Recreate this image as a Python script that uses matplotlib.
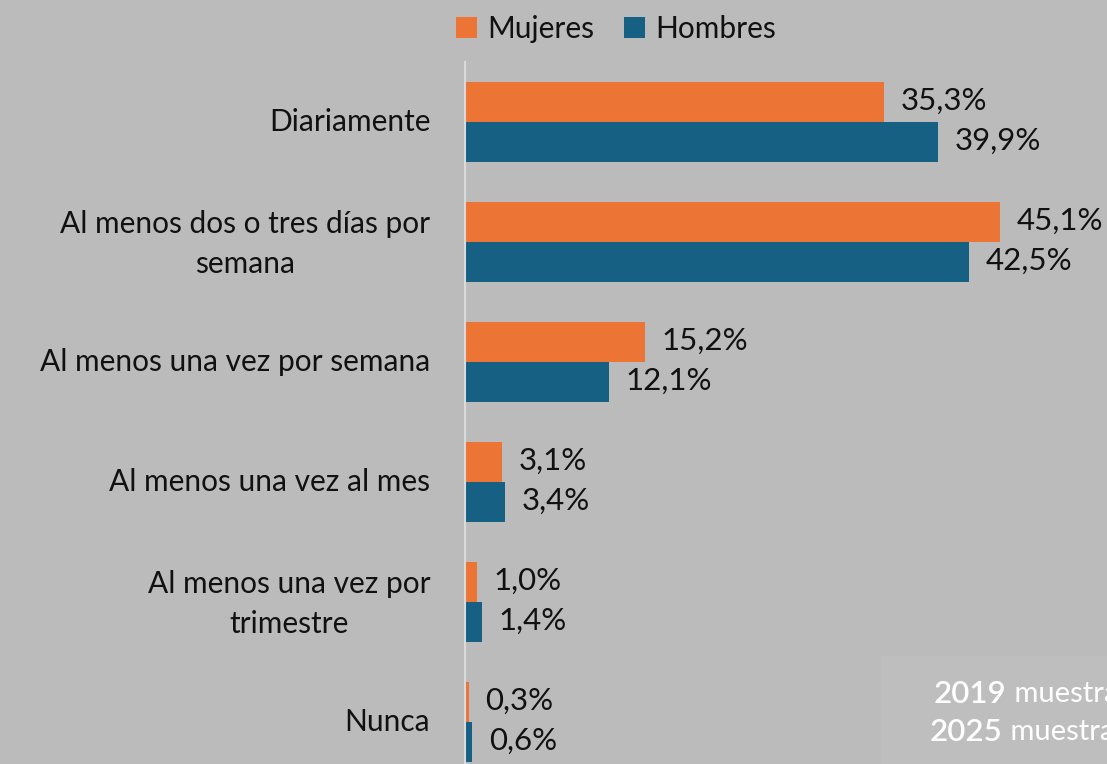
import matplotlib
matplotlib.use("Agg")
import matplotlib.pyplot as plt
import matplotlib.transforms as mtransforms
import numpy as np
from matplotlib.patches import Rectangle

categories = ["Diariamente", "Al menos dos o tres días por\nsemana", "Al menos una vez por semana",
              "Al menos una vez al mes", "Al menos una vez por\ntrimestre", "Nunca"]
mujeres = [35.3, 45.1, 15.2, 3.1, 1.0, 0.3]
hombres = [39.9, 42.5, 12.1, 3.4, 1.4, 0.6]
series_names = ["Mujeres", "Hombres"]
colors = ["#EC7434", "#166084"]
box_lines = [("2019", " muestra"), ("2025", " muestra")]

plt.rcParams['font.family'] = ['Lato', 'DejaVu Sans']
BG = "#BBBBBB"
W, H = 1107, 764
fig = plt.figure(figsize=(W/100, H/100), dpi=100, facecolor=BG)
ax = fig.add_axes([465/W, 1 - 782/H, (W - 465)/W, 720/H])
ax.set_facecolor(BG)

y = np.arange(len(categories))
bh = 1/3
bm = ax.barh(y - bh/2, mujeres, height=bh, color=colors[0], label=series_names[0])
bhb = ax.barh(y + bh/2, hombres, height=bh, color=colors[1], label=series_names[1])
ax.set_xlim(0, (W - 465)/11.86)
ax.set_ylim(len(categories) - 0.5, -0.5)

fs = 21.5
for bars, vals in ((bm, mujeres), (bhb, hombres)):
    for b, v in zip(bars, vals):
        ax.annotate(f"{v:.1f}%".replace(".", ","), (v, b.get_y() + b.get_height()/2),
                    xytext=(12, 1), textcoords="offset points", va="center", ha="left",
                    fontsize=22.5, color="#111111", annotation_clip=False)

ax.set_yticks(y)
ax.set_yticklabels(categories, fontsize=fs, color="#111111", multialignment="center", linespacing=1.55)
ax.tick_params(axis="y", length=0, pad=25)
for lbl in ax.get_yticklabels():
    dy = 7 if "\n" in lbl.get_text() else 3
    off = mtransforms.ScaledTranslation(0, dy/100, fig.dpi_scale_trans)
    lbl.set_transform(lbl.get_transform() + off)
ax.set_xticks([])
for s in ["top", "right", "bottom"]:
    ax.spines[s].set_visible(False)
ax.spines["left"].set_color("#DADADA")
ax.spines["left"].set_linewidth(1.5)

leg = fig.legend(handles=[bm, bhb], labels=series_names, loc="center", bbox_to_anchor=(616/W, 1 - 29/H),
                 ncol=2, frameon=False, fontsize=fs, handlelength=0.7, handleheight=0.7,
                 handletextpad=0.35, columnspacing=1.0)
for t in leg.get_texts():
    t.set_color("#111111")

fig.patches.append(Rectangle((881/W, 0), (W - 881)/W, (H - 656)/H, transform=fig.transFigure,
                             facecolor="#BEBEBE", edgecolor="none", zorder=0))
for i, (yr, rest) in enumerate(box_lines):
    yy = 1 - (694 + 38*i)/H
    x0 = (934 - 4*i)/W
    t1 = fig.text(x0, yy, yr, fontsize=22.5, color="white", va="center", ha="left", fontweight="semibold")
    fig.canvas.draw()
    bb = t1.get_window_extent()
    fig.text(bb.x1/W, yy, rest, fontsize=21, color="white", va="center", ha="left", fontweight="normal")

fig.savefig("out.png", dpi=100, facecolor=BG)
